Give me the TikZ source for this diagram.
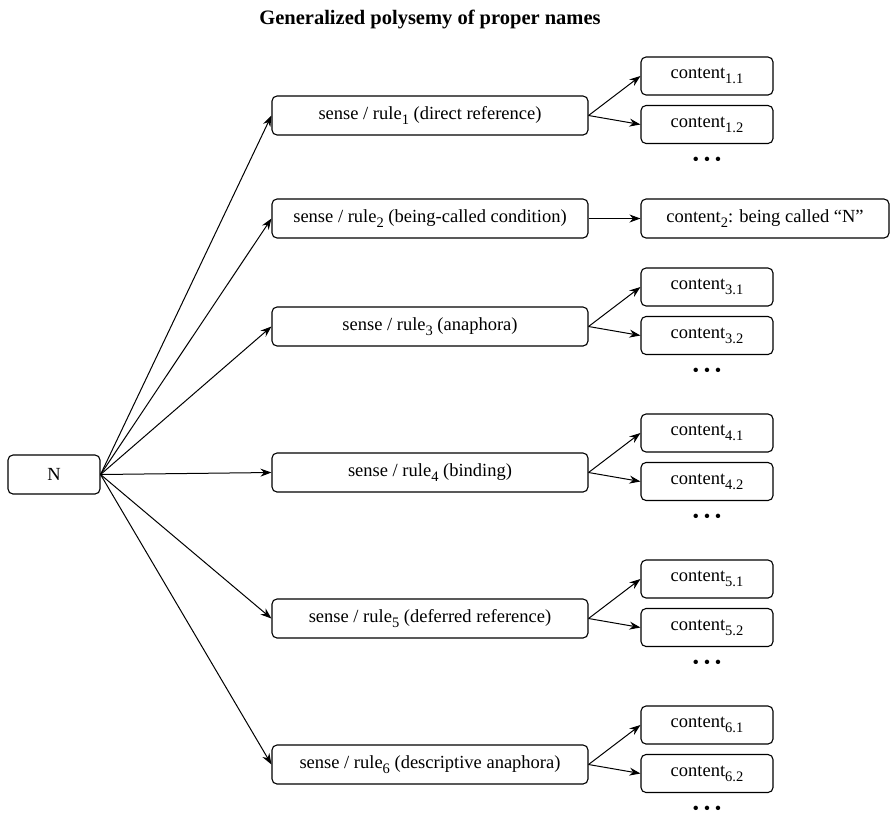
\documentclass[tikz,border=0pt]{standalone}
\usepackage{fontspec}
\setmainfont{Liberation Serif}
\usetikzlibrary{arrows.meta}
\newcommand\lsub[1]{\raisebox{-0.6ex}{\fontsize{14.5}{15}\selectfont #1}}
\begin{document}
\begin{tikzpicture}[x=1pt,y=-1pt,
  box/.style={draw, rounded corners=5pt, line width=1.1pt, inner sep=0pt, font=\fontsize{18.5}{20}\selectfont},
  nbox/.style={box, minimum width=92pt, minimum height=39pt},
  sbox/.style={box, minimum width=316pt, minimum height=39pt},
  cbox/.style={box, minimum width=132pt, minimum height=38pt},
  wbox/.style={box, minimum width=248pt, minimum height=39pt},
  dotsnode/.style={inner sep=0pt, font=\fontsize{18.5}{20}\selectfont},
  arr/.style={-{Stealth[length=11pt,width=8pt]}, line width=1pt}]
\useasboundingbox (0,0) rectangle (890,817);
\node[font=\fontsize{20.5}{22}\selectfont\bfseries] (title) at (430,19) {Generalized polysemy of proper names};
\node[nbox] (N) at (54,474.5) {N};
\node[sbox] (s1) at (430,115.5) {sense / rule\lsub{1} (direct reference)};
\node[sbox] (s2) at (430,218.5) {sense / rule\lsub{2} (being-called condition)};
\node[sbox] (s3) at (430,326.5) {sense / rule\lsub{3} (anaphora)};
\node[sbox] (s4) at (430,472.5) {sense / rule\lsub{4} (binding)};
\node[sbox] (s5) at (430,618.5) {sense / rule\lsub{5} (deferred reference)};
\node[sbox] (s6) at (430,764.5) {sense / rule\lsub{6} (descriptive anaphora)};
\node[wbox] (c2) at (765,218.5) {content\lsub{2}: being called “N”};
\foreach \i/\y in {1/115.5,3/326.5,4/472.5,5/618.5,6/764.5}{
  \node[cbox] (c\i a) at (707,\y-39.5) {content\lsub{\i.1}};
  \node[cbox] (c\i b) at (707,\y+9) {content\lsub{\i.2}};
  \node[dotsnode] (d\i) at (707,\y+46) {• • •};
  \draw[arr] (s\i.east) -- (c\i a.west);
  \draw[arr] (s\i.east) -- (c\i b.west);
}
\draw[arr] (s2.east) -- (c2.west);
\foreach \i in {1,...,6}{
  \draw[arr] (N.east) -- (s\i.west);
}
\end{tikzpicture}
\end{document}
